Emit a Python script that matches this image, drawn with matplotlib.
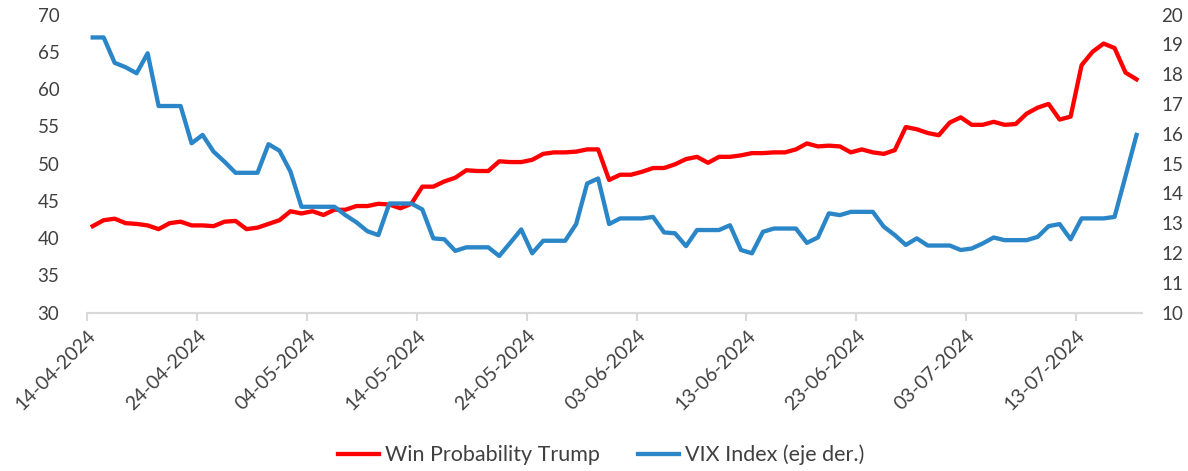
import matplotlib.dates as mdates
import matplotlib.pyplot as plt
import matplotlib.transforms as mtransforms
import pandas as pd
from matplotlib.lines import Line2D

plt.rcParams["font.family"] = ["Lato", "DejaVu Sans"]

# daily observations, 14-04-2024 .. 18-07-2024
DATES = pd.date_range("2024-04-14", periods=96, freq="D")

WIN_PROB_TRUMP = [
    41.6, 42.4, 42.6, 42.0, 41.9, 41.7, 41.2, 42.0, 42.2, 41.7,
    41.7, 41.6, 42.2, 42.3, 41.2, 41.4, 41.9, 42.4, 43.6, 43.3,
    43.6, 43.1, 43.8, 43.8, 44.3, 44.3, 44.6, 44.5, 44.0, 44.6,
    46.9, 46.9, 47.6, 48.1, 49.1, 49.0, 49.0, 50.3, 50.2, 50.2,
    50.5, 51.3, 51.5, 51.5, 51.6, 51.9, 51.9, 47.8, 48.5, 48.5,
    48.9, 49.4, 49.4, 49.9, 50.6, 50.9, 50.1, 50.9, 50.9, 51.1,
    51.4, 51.4, 51.5, 51.5, 51.9, 52.7, 52.3, 52.4, 52.3, 51.5,
    51.9, 51.5, 51.3, 51.8, 54.9, 54.6, 54.1, 53.8, 55.5, 56.2,
    55.2, 55.2, 55.6, 55.2, 55.3, 56.7, 57.5, 58.0, 55.9, 56.3,
    63.2, 65.0, 66.1, 65.5, 62.2, 61.3,
]

VIX = [
    19.23, 19.23, 18.38, 18.23, 18.03, 18.70, 16.93, 16.93, 16.93, 15.68,
    15.96, 15.40, 15.06, 14.69, 14.69, 14.69, 15.65, 15.43, 14.73, 13.55,
    13.55, 13.55, 13.55, 13.27, 13.03, 12.73, 12.60, 13.66, 13.66, 13.66,
    13.46, 12.49, 12.46, 12.07, 12.19, 12.19, 12.19, 11.90, 12.34, 12.79,
    11.99, 12.41, 12.41, 12.41, 12.97, 14.33, 14.50, 12.97, 13.16, 13.16,
    13.16, 13.21, 12.69, 12.66, 12.23, 12.77, 12.77, 12.77, 12.93, 12.10,
    11.99, 12.71, 12.82, 12.82, 12.82, 12.34, 12.52, 13.33, 13.27, 13.38,
    13.38, 13.38, 12.88, 12.60, 12.27, 12.49, 12.25, 12.25, 12.25, 12.10,
    12.15, 12.32, 12.52, 12.43, 12.43, 12.43, 12.54, 12.90, 12.97, 12.46,
    13.16, 13.16, 13.16, 13.21, 14.58, 15.96,
]

RED = "#ff0000"
BLUE = "#2b86c8"
TEXT = "#404040"
AXIS = "#d9d9d9"


def main() -> None:
    fig = plt.figure(figsize=(11.88, 4.71), dpi=100)
    ax1 = fig.add_axes([0.0734, 0.3363, 0.8879, 0.6329])
    ax2 = ax1.twinx()

    # points sit in the middle of each day, as on an Excel date axis
    x = DATES + pd.Timedelta(hours=12)
    ax1.plot(x, WIN_PROB_TRUMP, color=RED, linewidth=3.1, solid_joinstyle="round")
    ax2.plot(x, VIX, color=BLUE, linewidth=3.1, solid_joinstyle="round")

    ax1.set_ylim(30, 70)
    ax1.set_yticks(range(30, 71, 5))
    ax2.set_ylim(10, 20)
    ax2.set_yticks(range(10, 21, 1))

    ax1.set_xlim(pd.Timestamp("2024-04-14"), pd.Timestamp("2024-07-19"))
    ax1.set_xticks(pd.date_range("2024-04-14", "2024-07-19", freq="10D"))
    ax1.xaxis.set_major_formatter(mdates.DateFormatter("%d-%m-%Y"))
    shift = mtransforms.ScaledTranslation(0.10, -0.07, fig.dpi_scale_trans)
    for lbl in ax1.get_xticklabels():
        lbl.set_rotation(45)
        lbl.set_ha("right")
        lbl.set_va("top")
        lbl.set_rotation_mode("anchor")
        lbl.set_transform(lbl.get_transform() + shift)

    for ax in (ax1, ax2):
        for side in ("top", "left", "right"):
            ax.spines[side].set_visible(False)
        ax.spines["bottom"].set_color(AXIS)
        ax.spines["bottom"].set_linewidth(1.5)
        ax.tick_params(axis="y", length=0, labelsize=13.5, labelcolor=TEXT)
    ax1.tick_params(axis="y", pad=20)
    ax2.tick_params(axis="y", pad=14)
    ax1.tick_params(axis="x", length=6, width=1.5, color=AXIS,
                    labelsize=14, labelcolor=TEXT, pad=4)

    handles = [
        Line2D([], [], color=RED, linewidth=3.1),
        Line2D([], [], color=BLUE, linewidth=3.1),
    ]
    fig.legend(
        handles, ["Win Probability Trump", "VIX Index (eje der.)"],
        loc="center", bbox_to_anchor=(0.506, 0.034), ncol=2, frameon=False,
        fontsize=15.5, labelcolor=TEXT, handlelength=1.9, handletextpad=0.25,
        columnspacing=1.8,
    )

    fig.savefig("out.png", dpi=100)


if __name__ == "__main__":
    main()
